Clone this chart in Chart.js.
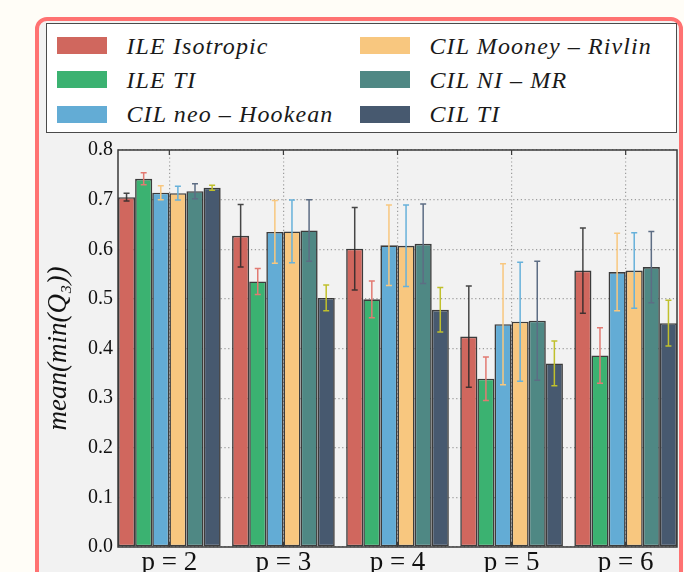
<!DOCTYPE html>
<html>
<head>
<meta charset="utf-8">
<script src="https://cdn.jsdelivr.net/npm/chart.js@4.4.1/dist/chart.umd.min.js"></script>
<style>
  html, body { margin: 0; padding: 0; background: #fffdf7; }
  body { width: 684px; height: 572px; position: relative; overflow: hidden; }
  #frame {
    position: absolute; left: 35px; top: 17px; width: 648px; height: 620px;
    box-sizing: border-box; border: 4.5px solid #ff7272; border-radius: 12px;
    background: #f2f2f2;
  }
  #legend {
    position: absolute; left: 46px; top: 23px; width: 631px; height: 110px;
    box-sizing: border-box; border: 1.5px solid #4a4a4a; background: #fff;
  }
  #legend .item {
    position: absolute; height: 34px; display: flex; align-items: center;
    font-family: 'Liberation Serif', serif; font-style: italic; font-size: 24px;
    letter-spacing: 1.1px; color: #1a1a1a; white-space: nowrap; line-height: 1;
  }
  #legend .swatch { width: 50px; height: 17px; margin-right: 20px; }
  #chart { position: absolute; left: 0; top: 0; z-index: 2; }
</style>
</head>
<body>
<div id="frame"></div>
<div id="legend"></div>
<canvas id="chart" width="684" height="572"></canvas>
<script>
// categorias e series
const categories = ['p = 2', 'p = 3', 'p = 4', 'p = 5', 'p = 6'];
const seriesNames = ['ILE Isotropic', 'ILE TI', 'CIL neo \u2013 Hookean', 'CIL Mooney \u2013 Rivlin', 'CIL NI \u2013 MR', 'CIL TI'];

const ileIsotropic    = [0.705, 0.627, 0.601, 0.424, 0.557];
const ileTI           = [0.742, 0.535, 0.499, 0.339, 0.386];
const cilNeoHookean   = [0.714, 0.635, 0.608, 0.449, 0.554];
const cilMooneyRivlin = [0.713, 0.636, 0.607, 0.454, 0.557];
const cilNIMR         = [0.717, 0.638, 0.611, 0.456, 0.564];
const cilTI           = [0.724, 0.502, 0.478, 0.370, 0.451];

// desvios (barras de erro, +/-)
const ileIsotropicErr    = [0.008, 0.063, 0.083, 0.102, 0.086];
const ileTIErr           = [0.012, 0.026, 0.037, 0.044, 0.056];
const cilNeoHookeanErr   = [0.014, 0.063, 0.081, 0.122, 0.078];
const cilMooneyRivlinErr = [0.014, 0.063, 0.082, 0.120, 0.076];
const cilNIMRErr         = [0.015, 0.062, 0.080, 0.120, 0.072];
const cilTIErr           = [0.005, 0.026, 0.045, 0.045, 0.046];

const seriesValues = [ileIsotropic, ileTI, cilNeoHookean, cilMooneyRivlin, cilNIMR, cilTI];
const seriesErrors = [ileIsotropicErr, ileTIErr, cilNeoHookeanErr, cilMooneyRivlinErr, cilNIMRErr, cilTIErr];

const barColors = ['#d0675e', '#3bb271', '#63acd5', '#f8c77f', '#4f8884', '#47596f'];
const errColors = ['rgba(40,40,40,0.85)', '#e27a72', '#f8c77f', '#67b1da', '#5d6d84', '#c0c02c'];

const serif = "'Liberation Serif', 'Times New Roman', serif";

// barras de erro desenhadas sobre cada barra
const errorBars = {
  id: 'errorBars',
  afterDatasetsDraw(chart) {
    const ctx = chart.ctx;
    const yScale = chart.scales.y;
    chart.data.datasets.forEach((ds, d) => {
      const meta = chart.getDatasetMeta(d);
      meta.data.forEach((bar, i) => {
        const v = seriesValues[d][i];
        const e = seriesErrors[d][i];
        const top = yScale.getPixelForValue(v + e);
        const bot = yScale.getPixelForValue(v - e);
        ctx.save();
        ctx.strokeStyle = errColors[d];
        ctx.lineWidth = 1.5;
        ctx.beginPath();
        ctx.moveTo(bar.x, top); ctx.lineTo(bar.x, bot);
        ctx.moveTo(bar.x - 3, top); ctx.lineTo(bar.x + 3, top);
        ctx.moveTo(bar.x - 3, bot); ctx.lineTo(bar.x + 3, bot);
        ctx.stroke();
        ctx.restore();
      });
    });
  }
};

// moldura do eixo (4 lados) e ticks para dentro
const axesFrame = {
  id: 'axesFrame',
  afterDraw(chart) {
    const { ctx, chartArea: a } = chart;
    const xScale = chart.scales.x;
    ctx.save();
    ctx.strokeStyle = '#3a3a3a';
    ctx.lineWidth = 1.5;
    ctx.strokeRect(a.left, a.top, a.right - a.left, a.bottom - a.top);
    ctx.lineWidth = 1.2;
    ctx.beginPath();
    xScale.ticks.forEach((t, i) => {
      const x = xScale.getPixelForTick(i);
      ctx.moveTo(x, a.bottom); ctx.lineTo(x, a.bottom - 5);
      ctx.moveTo(x, a.top); ctx.lineTo(x, a.top + 5);
    });
    ctx.stroke();
    ctx.restore();
  }
};

const chart = new Chart(document.getElementById('chart'), {
  type: 'bar',
  data: {
    datasets: seriesNames.map((name, d) => ({
      label: name,
      data: seriesValues[d].map((v, i) => ({ x: i, y: v })),
      backgroundColor: barColors[d],
      borderColor: 'rgba(40,40,40,0.9)',
      borderWidth: 1.6,
      borderSkipped: false,
      categoryPercentage: 0.9,
      barPercentage: 1.0
    }))
  },
  options: {
    responsive: false,
    devicePixelRatio: 1,
    animation: false,
    layout: { padding: { top: 150, right: 7, bottom: 0, left: 0 } },
    plugins: {
      legend: { display: false }, // legenda feita em HTML
      tooltip: { enabled: false }
    },
    scales: {
      x: {
        type: 'linear',
        min: -0.45,
        max: 4.45,
        offset: false,
        afterBuildTicks: (s) => { s.ticks = categories.map((_, i) => ({ value: i })); },
        afterFit: (s) => { s.height = 25; },
        grid: { offset: false, color: '#9c9c9c', lineWidth: 1.2, drawTicks: false },
        border: { display: false, dash: [1.2, 2.6] },
        ticks: {
          padding: 0,
          autoSkip: false,
          maxRotation: 0,
          color: '#111',
          font: { family: serif, size: 27 },
          callback: (v) => categories[v]
        }
      },
      y: {
        min: 0,
        max: 0.8,
        afterFit: (s) => { s.width = 118; },
        grid: { color: '#9c9c9c', lineWidth: 1.2, drawTicks: false },
        border: { display: false, dash: [1.2, 2.6] },
        ticks: {
          stepSize: 0.1,
          padding: 5,
          color: '#111',
          font: { family: serif, size: 20 },
          callback: (v) => v.toFixed(1)
        },
        title: {
          display: true,
          text: 'mean(min(Q\u2083))',
          color: '#111',
          font: { family: serif, size: 27, style: 'italic' },
          padding: { top: 43, bottom: 0 }
        }
      }
    }
  },
  plugins: [errorBars, axesFrame]
});

// legenda em duas colunas (ordem por coluna)
const legendBox = document.getElementById('legend');
chart.options.plugins.legend.labels.generateLabels(chart).forEach((item, k) => {
  const col = Math.floor(k / 3);
  const row = k % 3;
  const el = document.createElement('div');
  el.className = 'item';
  el.style.left = (col ? 312.5 : 9.5) + 'px';
  el.style.top = (4.5 + row * 34.3) + 'px';
  const sw = document.createElement('span');
  sw.className = 'swatch';
  sw.style.background = item.fillStyle;
  const tx = document.createElement('span');
  tx.textContent = item.text;
  el.appendChild(sw);
  el.appendChild(tx);
  legendBox.appendChild(el);
});
</script>
</body>
</html>
